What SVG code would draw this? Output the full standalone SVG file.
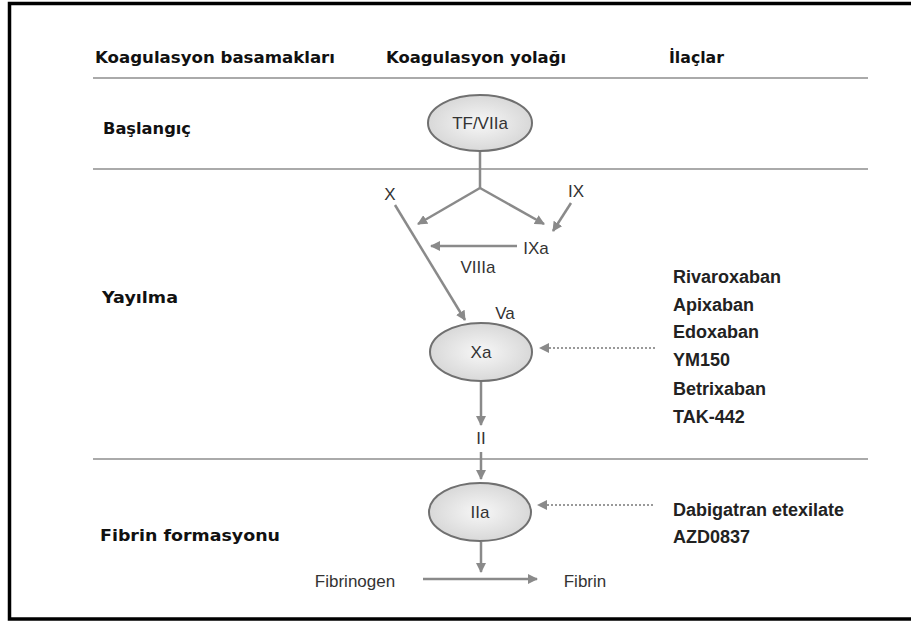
<svg xmlns="http://www.w3.org/2000/svg" width="911" height="625" viewBox="0 0 911 625">
<style>
.hdr{font-family:"DejaVu Sans",sans-serif;font-weight:bold;font-size:16px;fill:#111}
.lbl{font-family:"Liberation Sans",Arial,sans-serif;font-size:17px;fill:#333}
.drug{font-family:"Liberation Sans",Arial,sans-serif;font-weight:bold;font-size:18px;fill:#222}
.sep{stroke:#aaa;stroke-width:2;fill:none}
.ar{stroke:#8a8a8a;stroke-width:2.5;fill:none;marker-end:url(#ah)}
.ln{stroke:#8a8a8a;stroke-width:2.5;fill:none}
.dot{stroke:#999;stroke-width:2;stroke-dasharray:2 2;fill:none;marker-end:url(#ah)}
.node{fill:url(#g);stroke:#707070;stroke-width:2}
</style>
<defs>
<radialGradient id="g" cx="50%" cy="50%" r="60%">
<stop offset="0" stop-color="#f7f7f7"/>
<stop offset="1" stop-color="#d2d2d2"/>
</radialGradient>
<marker id="ah" markerWidth="10" markerHeight="10" refX="9" refY="5" orient="auto" markerUnits="userSpaceOnUse">
<path d="M0,0 L10,5 L0,10 Z" fill="#8a8a8a"/>
</marker>
</defs>
<rect x="0" y="0" width="911" height="625" fill="#fff"/>
<rect x="9.5" y="3.5" width="920" height="615.5" fill="none" stroke="#000" stroke-width="3.5"/>

<g id="headers">
<text class="hdr" x="95" y="63" textLength="240" lengthAdjust="spacingAndGlyphs">Koagulasyon basamakları</text>
<text class="hdr" x="386" y="63" textLength="180" lengthAdjust="spacingAndGlyphs">Koagulasyon yolağı</text>
<text class="hdr" x="669" y="63" textLength="55" lengthAdjust="spacingAndGlyphs">İlaçlar</text>
<text class="hdr" x="103" y="134" textLength="88" lengthAdjust="spacingAndGlyphs">Başlangıç</text>
<text class="hdr" x="102" y="303" textLength="76" lengthAdjust="spacingAndGlyphs">Yayılma</text>
<text class="hdr" x="100" y="541" textLength="180" lengthAdjust="spacingAndGlyphs">Fibrin formasyonu</text>
</g>
<g id="separators">
<line class="sep" x1="93" y1="78" x2="868" y2="78"/>
<line class="sep" x1="93" y1="169" x2="868" y2="169"/>
<line class="sep" x1="93" y1="459" x2="868" y2="459"/>
</g>

<g id="connectors">
<line class="ln" x1="480" y1="150" x2="480" y2="188"/>
<line class="ar" x1="480" y1="188" x2="418" y2="224"/>
<line class="ar" x1="480" y1="188" x2="544" y2="224"/>
<line class="ar" x1="571" y1="203" x2="553" y2="231"/>
<line class="ar" x1="517" y1="246" x2="431" y2="246"/>
<line class="ar" x1="395" y1="205" x2="465" y2="320"/>
<line class="ar" x1="481" y1="382" x2="481" y2="425"/>
<line class="dot" x1="655" y1="348" x2="540" y2="348"/>
<line class="ar" x1="481" y1="452" x2="481" y2="479"/>
<line class="dot" x1="653" y1="505" x2="538" y2="505"/>
<line class="ar" x1="481" y1="542" x2="481" y2="572"/>
<line class="ar" x1="423" y1="579" x2="537" y2="579"/>
</g>

<g id="n-tfviia"><ellipse class="node" cx="480" cy="123" rx="52" ry="28"/><text class="lbl" x="480" y="129" text-anchor="middle">TF/VIIa</text></g>
<g id="n-x"><text class="lbl" x="390" y="200" text-anchor="middle">X</text></g>
<g id="n-ix"><text class="lbl" x="576" y="197" text-anchor="middle">IX</text></g>
<g id="n-ixa"><text class="lbl" x="536" y="254" text-anchor="middle">IXa</text></g>
<g id="n-viiia"><text class="lbl" x="478" y="273" text-anchor="middle">VIIIa</text></g>
<g id="n-va"><text class="lbl" x="505" y="319" text-anchor="middle">Va</text></g>
<g id="n-xa"><ellipse class="node" cx="481" cy="352" rx="51" ry="29"/><text class="lbl" x="481" y="358" text-anchor="middle">Xa</text></g>
<g id="n-ii"><text class="lbl" x="481" y="444" text-anchor="middle">II</text></g>
<g id="n-iia"><ellipse class="node" cx="480" cy="512" rx="51" ry="29"/><text class="lbl" x="480" y="518" text-anchor="middle">IIa</text></g>
<g id="n-fibrinogen"><text class="lbl" x="355" y="587" text-anchor="middle">Fibrinogen</text></g>
<g id="n-fibrin"><text class="lbl" x="585" y="587" text-anchor="middle">Fibrin</text></g>

<g id="drugs-xa">
<text class="drug" x="673" y="283">Rivaroxaban</text>
<text class="drug" x="673" y="311">Apixaban</text>
<text class="drug" x="673" y="338">Edoxaban</text>
<text class="drug" x="673" y="366">YM150</text>
<text class="drug" x="673" y="395">Betrixaban</text>
<text class="drug" x="673" y="423">TAK-442</text>
</g>
<g id="drugs-iia">
<text class="drug" x="673" y="516">Dabigatran etexilate</text>
<text class="drug" x="673" y="543">AZD0837</text>
</g>
</svg>
